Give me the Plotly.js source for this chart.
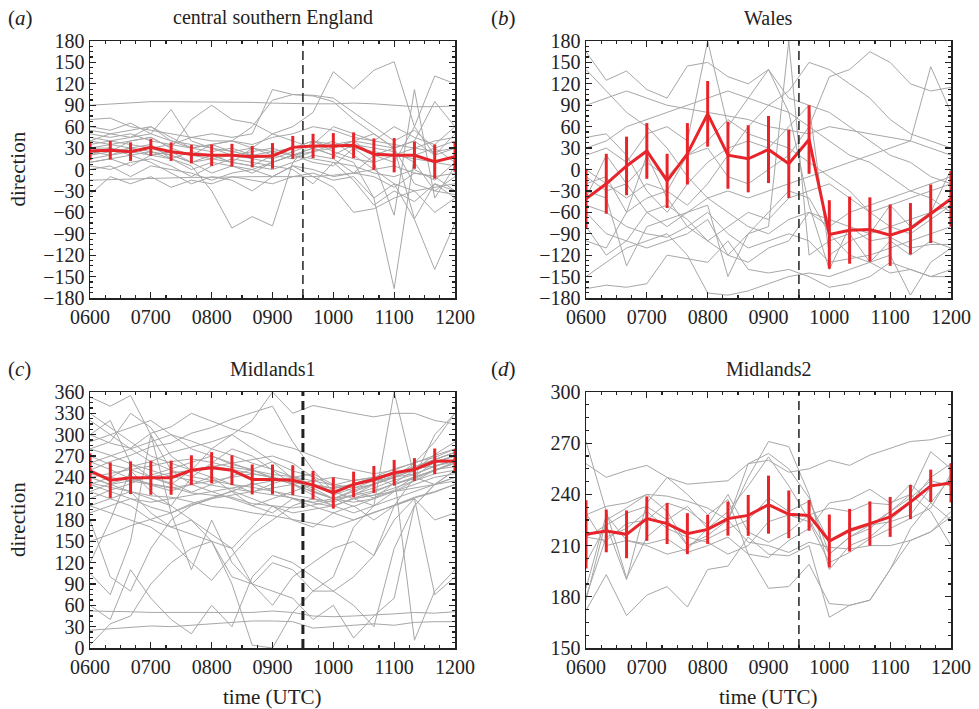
<!DOCTYPE html>
<html>
<head>
<meta charset="utf-8">
<script src="https://cdn.plot.ly/plotly-3.0.1.min.js"></script>
<style>html,body{margin:0;padding:0;background:#fff;}#chart{width:979px;height:709px;}</style>
</head>
<body>
<div id="chart"></div>
<script>
// ---------- DATA ----------
const times = ["0600","0620","0640","0700","0720","0740","0800","0820","0840","0900",
               "0920","0940","1000","1020","1040","1100","1120","1140","1200"];
const hourTicks = ["0600","0700","0800","0900","1000","1100","1200"];
const eventTime = "0930";

const panelTitles = ["central southern England","Wales","Midlands1","Midlands2"];
const panelLetters = ["a","b","c","d"];

// (a) central southern England
const meanA = [26,27,25,31,25,21.5,20,20,18,19,31,33,33,34,21.5,20,20,11,18];
const errA  = [13,13,13,12,13,13,15,16,15,18,16,17,18,18,22,24,19,24,21];
const greyA = [
 [90,92,93,95,95,95,95,95,94,93,92,92,92,93,92,90,88,88,89],
 [55,50,45,60,40,30,35,40,60,97,105,104,100,80,60,40,55,30,40],
 [45,40,35,30,35,45,50,45,50,112,105,103,95,70,50,30,40,20,50],
 [30,35,40,45,30,20,35,40,30,50,60,80,137,113,139,151,60,20,30],
 [20,25,30,20,25,10,20,10,5,20,30,40,30,40,20,10,60,131,120],
 [10,15,5,20,15,0,10,5,-5,10,20,30,20,10,-40,-167,20,30,10],
 [40,35,30,25,20,10,-5,5,0,10,20,30,40,20,0,-20,-70,-140,-75],
 [25,20,30,35,15,5,-30,-82,-66,-79,10,40,35,30,25,20,30,25,30],
 [15,20,25,30,20,10,15,20,25,30,20,10,5,30,10,-64,112,-40,5],
 [35,40,45,50,84,40,30,20,15,10,20,25,30,40,35,30,-69,-20,-40],
 [30,25,40,45,30,70,90,70,65,50,40,30,20,35,30,25,10,-30,-35],
 [-35,-10,-20,-10,-25,-15,-20,-10,-15,-20,-10,-5,-15,-10,-40,-20,-30,-25,-20],
 [-15,-14,-13,-12,-12,-11,-11,-10,-10,-10,-10,-10,-8,-5,0,5,-5,-10,-30],
 [70,72,60,55,50,45,40,40,35,45,50,60,55,45,40,35,30,40,45],
 [50,45,50,40,35,30,25,30,20,15,25,35,60,50,40,60,45,35,60],
 [0,5,-10,5,0,-5,-15,-5,0,-10,5,0,-10,-5,20,30,-20,-30,-10],
 [5,0,10,15,5,-10,5,15,10,5,0,-20,10,-15,-50,-30,-45,-20,-30],
 [40,50,55,60,45,30,35,25,30,25,20,15,10,5,-5,-10,0,-15,10],
 [20,30,20,25,15,25,20,10,30,20,15,25,35,40,50,30,40,95,60],
 [60,55,65,50,40,35,30,25,20,25,30,40,25,15,10,20,15,10,5],
 [30,30,25,20,25,20,15,10,5,0,10,20,15,-5,-10,-25,-5,-10,-5],
 [10,15,20,10,-5,-20,-10,-15,-30,-10,5,-10,-25,-60,-55,-40,-30,-60,-40]
];

// (b) Wales
const meanB = [-41,-20,5,26,-16,22,78,20,15,28,8,42,-91,-85,-84,-92,-83,-62,-41];
const errB  = [42,42,41,39,38,43,46,47,47,47,48,48,48,47,45,43,36,41,39];
const greyB = [
 [165,125,138,112,100,145,150,130,120,140,100,90,80,60,40,20,10,-10,-20],
 [-167,-162,-165,-160,-120,-125,-130,-100,-140,-145,-140,-150,-165,-160,-150,-130,-140,-150,-150],
 [-150,-130,-110,-100,-90,-120,-173,-176,-170,-160,-150,-145,-150,-140,-130,-120,-176,-130,-110],
 [90,100,110,100,90,85,80,75,70,60,55,50,60,55,50,45,40,30,20],
 [140,110,80,60,30,-10,-40,-60,-80,-90,-70,-60,-70,-80,-100,-95,-110,-105,-105],
 [45,50,20,-30,-60,-20,10,30,40,30,60,90,-120,-100,-90,-80,-70,-60,-50],
 [-50,-60,-80,-90,-95,-80,-60,-90,-110,-100,-90,-100,-130,-125,-120,-110,-100,-90,-80],
 [0,-20,-40,-20,-30,20,30,-10,-20,0,20,60,130,140,165,150,120,110,115],
 [-100,-110,-60,-40,-30,-50,-20,20,60,90,110,150,140,120,100,70,50,40,30],
 [20,30,10,50,60,40,180,60,100,140,80,-50,-140,-80,-90,-50,-40,-30,-20],
 [-30,-40,-135,-80,-70,-60,-50,-150,-90,-60,-30,-40,-90,-120,-130,-145,-140,-150,-140],
 [-20,-10,-60,20,-40,-80,-100,-120,-130,-110,-100,-60,-80,-60,-50,-40,-30,-20,-10],
 [30,40,60,70,80,90,100,110,100,90,80,60,40,20,10,-10,-30,-40,-60],
 [-80,-120,-100,-110,-100,-90,-70,-120,-90,-80,180,-120,-100,-90,-130,-100,-120,-100,-110],
 [-40,20,-20,-60,-50,-70,-100,-80,-60,-70,-40,-30,-20,-40,-60,-50,-80,-60,0],
 [-10,-30,-20,10,-10,20,40,70,50,40,30,10,-10,-30,-60,-80,-90,-70,-50],
 [-60,-90,-100,-60,-80,-60,-40,-30,-40,-30,-20,-10,0,10,20,30,40,144,80]
];

// (c) Midlands1
const meanC = [249,236,239.5,239.5,239.5,250,253.5,250,237,237,236,229,218,230,237,246.5,251,262.5,263];
const errC  = [25,25,23,24,24,21,22,21,21,21,21,20,22,18,19,18,16,18,17];
const greyC = [
 [52,52,51,50,50,50,49,49,50,52,50,45,44,45,46,48,50,49,51],
 [25,27,29,31,30,32,34,36,38,38,37,28,30,33,34,32,36,37,37],
 [4,34,45,90,120,140,150,100,90,80,70,40,60,14,45,70,200,230,240],
 [353,340,355,300,250,230,220,210,200,190,210,205,210,220,230,240,260,290,330],
 [300,320,260,240,230,250,280,300,320,360,330,341,335,330,325,330,330,320,315],
 [240,230,220,210,200,180,160,140,90,60,100,120,140,150,130,200,240,300,330],
 [280,290,330,310,270,250,240,220,200,210,220,230,220,210,200,360,240,230,250],
 [220,210,200,180,170,160,150,90,4,0,50,80,100,170,200,220,230,240,245],
 [230,240,255,262,275,282,290,300,281,262,238,221,210,222,231,243,251,262,270],
 [262,251,238,231,226,218,215,212,203,200,197,201,208,214,221,231,238,251,255],
 [200,190,180,170,150,120,95,130,160,180,200,210,200,190,200,210,220,230,240],
 [180,100,80,140,180,200,210,215,220,225,230,235,240,235,240,245,11,80,110],
 [250,262,271,283,288,302,310,322,331,340,290,250,220,231,240,252,260,271,280],
 [270,258,251,240,232,219,230,242,251,262,249,241,228,221,211,222,241,262,270],
 [210,222,231,243,252,261,270,258,251,238,231,219,210,199,210,232,250,272,290],
 [300,288,281,302,311,330,319,308,301,288,281,270,259,251,245,250,261,268,280],
 [150,160,172,181,190,203,211,220,232,221,211,199,190,180,190,201,212,220,230],
 [60,40,110,70,40,20,60,30,100,130,120,100,80,60,30,140,200,230,250],
 [232,226,219,214,212,205,199,196,190,186,181,176,170,180,191,200,211,219,230],
 [240,246,251,256,262,266,261,254,250,244,241,235,229,236,240,246,252,256,262],
 [280,271,259,250,241,236,229,224,220,216,211,204,199,211,219,231,240,249,260],
 [320,300,280,262,250,241,235,230,226,220,215,210,205,216,225,236,244,256,265],
 [220,231,240,229,221,230,241,230,219,231,240,229,221,230,240,229,241,250,262],
 [190,200,210,198,190,201,210,221,210,199,190,195,200,210,215,220,225,230,235],
 [260,270,281,290,300,291,280,271,260,251,240,230,224,231,235,240,251,265,275],
 [120,180,250,220,200,240,260,280,270,250,230,215,200,210,215,225,235,245,250],
 [240,230,235,241,246,250,256,251,245,240,234,225,210,215,230,240,245,255,265],
 [330,310,290,270,260,250,255,260,265,270,260,240,215,225,235,245,255,265,275],
 [200,210,220,190,170,180,150,140,170,200,180,170,190,200,180,200,210,180,190],
 [230,220,210,205,210,215,220,225,230,235,240,245,230,225,230,240,250,260,270],
 [290,300,310,320,300,280,270,260,250,240,230,220,210,205,210,220,235,250,260],
 [245,240,235,230,225,230,235,240,245,240,235,230,225,230,235,245,255,265,275],
 [105,75,150,300,190,110,180,120,90,120,110,80,80,100,130,180,210,75,100]
];

// (d) Midlands2
const meanD = [216.6,218.6,216.6,225.8,222.9,217,219.5,225.8,227.7,234,228.3,227.7,212.7,219,222.9,226.8,235.5,245,246.7];
const errD  = [20,12.5,14,13,12,12,8.5,10,12,17,14,9,15.5,12.5,13,11.7,10,9.5,11.5];
const greyD = [
 [258,250,254,257,250,246,247,248,258,260,253,255,260,257,263,267,271,272,275],
 [271,230,191,215,225,233,220,230,245,262,245,225,205,215,220,230,240,265,255],
 [172,193,169,181,186,174,196,198,215,205,204,210,168,175,178,196,220,235,250],
 [228,233,235,240,239,236,232,225,250,271,268,240,196,210,215,225,235,250,258],
 [178,225,232,240,230,210,216,225,258,264,255,238,205,215,222,230,238,248,245],
 [229,210,213,211,214,206,210,215,205,185,186,199,176,175,178,196,213,218,227],
 [215,213,223,225,235,231,222,240,218,212,218,228,232,230,235,234,246,235,225],
 [215,222,190,235,250,240,228,237,205,203,213,220,235,237,243,235,240,230,210],
 [185,228,213,210,205,208,220,225,212,210,206,212,209,208,210,210,213,218,230],
 [180,215,220,230,220,215,212,205,210,224,228,224,200,206,214,220,226,232,252],
 [200,222,229,233,225,210,214,220,225,238,230,236,212,218,222,224,228,244,248]
];

const yRanges = [[-180,180],[-180,180],[0,360],[150,300]];

// ---------- BUILD ----------
const toHour = t => parseInt(t.slice(0,2),10) + parseInt(t.slice(2),10)/60;
const hours = times.map(toHour);
const tickVals = hourTicks.map(toHour);
const eventHour = toHour(eventTime);

const RED = '#e8242b', GREY = '#a7a7a7', INK = '#222222';
const FONT = 'Liberation Serif, Times New Roman, serif';
const W = 979, H = 709;

const boxes = [ // pixel boxes [left, right, top, bottom]
  [90,455,41,298],[586,951,41,298],[90,455,392,648],[586,951,392,648]
];
const means = [meanA,meanB,meanC,meanD];
const errs = [errA,errB,errC,errD];
const greys = [greyA,greyB,greyC,greyD];

const data = [];
const layout = {
  width: W, height: H, margin:{l:0,r:0,t:0,b:0},
  paper_bgcolor:'#fff', plot_bgcolor:'#fff', showlegend:false,
  font:{family:FONT, size:20, color:INK},
  annotations:[], shapes:[]
};

for (let p=0;p<4;p++){
  const s = p===0?'':String(p+1);
  const xa='x'+s, ya='y'+s;
  greys[p].forEach(g=>{
    data.push({x:hours, y:g, xaxis:xa, yaxis:ya, type:'scatter', mode:'lines',
      line:{color:GREY, width:1}, hoverinfo:'skip'});
  });
  data.push({x:hours, y:means[p], xaxis:xa, yaxis:ya, type:'scatter', mode:'lines',
    line:{color:RED, width:3}, cliponaxis:false,
    error_y:{type:'data', array:errs[p], visible:true, color:RED, thickness:3, width:0}});
  const [l,r,t,b] = boxes[p];
  const axCommon = {
    showline:true, linecolor:INK, linewidth:1.5, mirror:'allticks',
    ticks:'inside', ticklen:6, tickwidth:1.2, tickcolor:INK,
    showgrid:false, zeroline:false, fixedrange:true,
    tickfont:{family:FONT, size:20, color:INK}
  };
  layout['xaxis'+s] = Object.assign({}, axCommon, {
    domain:[l/W, r/W], anchor:ya, range:[6,12],
    tickmode:'array', tickvals:tickVals, ticktext:hourTicks,
    minor:{tickmode:'linear', tick0:6, dtick:0.25, ticks:'inside', ticklen:3, tickcolor:INK, showgrid:false}
  });
  layout['yaxis'+s] = Object.assign({}, axCommon, {
    domain:[1-b/H, 1-t/H], anchor:xa, range:yRanges[p],
    tickmode:'linear', tick0:yRanges[p][0], dtick:30,
    minor:{tickmode:'linear', tick0:yRanges[p][0], dtick:7.5, ticks:'inside', ticklen:3, tickcolor:INK, showgrid:false}
  });
  layout.shapes.push({type:'line', xref:xa, yref:ya+' domain', x0:eventHour, x1:eventHour, y0:0, y1:1,
    line:{color:INK, width: p===2?3:1.5, dash:'9px,5px'}});
  // titles
  layout.annotations.push({xref:'paper', yref:'paper', x:((l+r)/2)/W, y:1-(t-23)/H,
    text:panelTitles[p], showarrow:false, xanchor:'center', yanchor:'middle',
    font:{family:FONT, size:20, color:INK}});
  layout.annotations.push({xref:'paper', yref:'paper', x:(p%2===0?6:489)/W, y:1-(t-23)/H,
    text:'(<i>'+panelLetters[p]+'</i>)', showarrow:false, xanchor:'left', yanchor:'middle',
    font:{family:FONT, size:21, color:INK}});
  if (p%2===0){
    layout.annotations.push({xref:'paper', yref:'paper', x:18/W, y:1-((t+b)/2)/H,
      text:'direction', showarrow:false, textangle:-90, xanchor:'center', yanchor:'middle',
      font:{family:FONT, size:21, color:INK}});
  }
  if (p>=2){
    layout.annotations.push({xref:'paper', yref:'paper', x:((l+r)/2)/W, y:1-697/H,
      text:'time (UTC)', showarrow:false, xanchor:'center', yanchor:'middle',
      font:{family:FONT, size:21, color:INK}});
  }
}

Plotly.newPlot('chart', data, layout, {displayModeBar:false, staticPlot:true});
</script>
</body>
</html>
